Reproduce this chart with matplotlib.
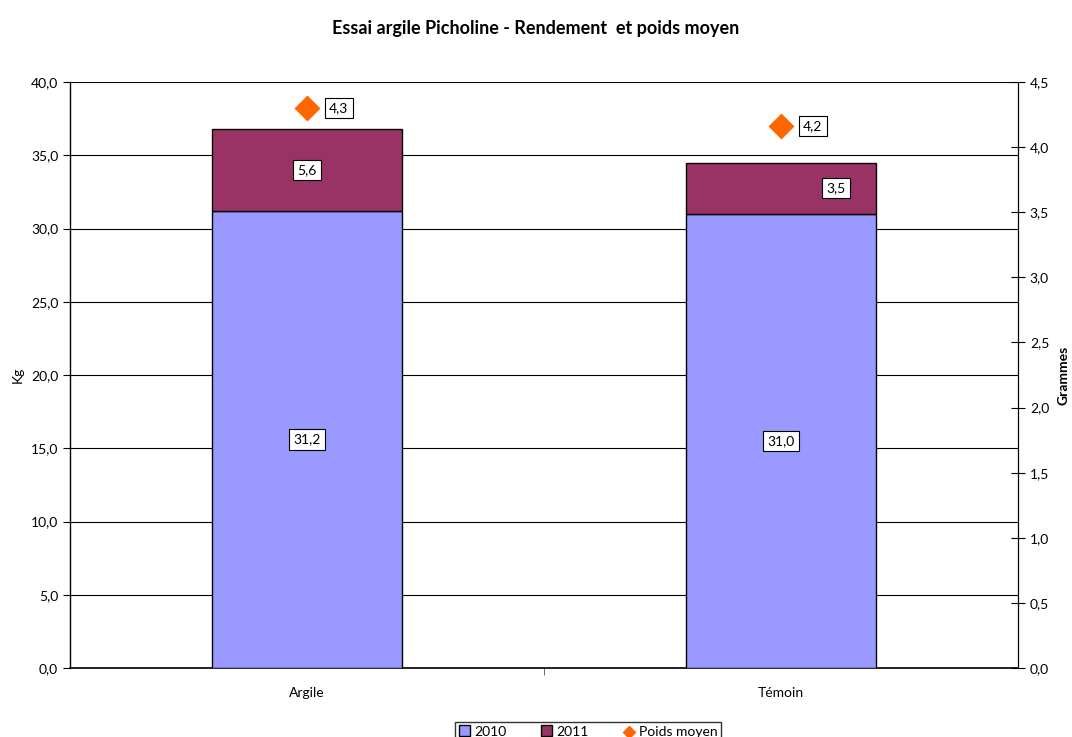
import matplotlib.pyplot as plt
import numpy as np

plt.rcParams['font.family'] = ['Lato', 'DejaVu Sans']

categories = ['Argile', 'Témoin']
rend_2010 = [31.2, 31.0]
rend_2011 = [5.6, 3.5]
poids_moyen = [4.3, 4.16]

col_2010 = '#9999FF'
col_2011 = '#993366'
col_poids = '#FF6600'


def fmt(v):
    return f'{v:.1f}'.replace('.', ',')


fig = plt.figure(figsize=(10.72, 7.37), dpi=100)
ax = fig.add_axes([70 / 1072, 1 - 668 / 737, 948 / 1072, 586 / 737])
x = np.arange(len(categories))
width = 0.4

ax.bar(x, rend_2010, width, color=col_2010, edgecolor='black', linewidth=1, zorder=3, label='2010')
ax.bar(x, rend_2011, width, bottom=rend_2010, color=col_2011, edgecolor='black', linewidth=1,
       zorder=3, label='2011')

box = dict(boxstyle='square,pad=0.3', fc='white', ec='black', lw=0.8)
for i in range(len(categories)):
    ax.text(x[i], rend_2010[i] / 2, fmt(rend_2010[i]), ha='center', va='center', fontsize=10,
            bbox=box, zorder=5)
# Excel label placement for 2011 segments
ax.text(x[0], rend_2010[0] + rend_2011[0] / 2, fmt(rend_2011[0]), ha='center', va='center',
        fontsize=10, bbox=box, zorder=5)
ax.text(x[1] + 0.116, rend_2010[1] + rend_2011[1] / 2, fmt(rend_2011[1]), ha='center', va='center',
        fontsize=10, bbox=box, zorder=5)

ax.set_xlim(-0.5, 1.5)
ax.set_ylim(0, 40)
ax.set_yticks(np.arange(0, 40.1, 5))
ax.set_yticklabels([fmt(v) for v in np.arange(0, 40.1, 5)], fontsize=10)
ax.yaxis.grid(True, color='black', linewidth=0.8, zorder=0)
ax.set_axisbelow(True)
ax.set_xticks(x)
ax.set_xticklabels(categories, fontsize=10)
ax.tick_params(axis='x', length=0, pad=14)
ax.set_xticks([0.5], minor=True)
ax.tick_params(axis='x', which='minor', length=5, direction='out', color='#555555')
ax.tick_params(axis='y', length=5, direction='out')
ax.spines['top'].set_visible(False)
ax.spines['left'].set_linewidth(1)
ax.spines['bottom'].set_linewidth(1.2)
fig.text(18 / 1072, 1 - 375 / 737, 'Kg', rotation=90, ha='center', va='center', fontsize=10)

ax2 = ax.twinx()
ax2.set_ylim(0, 4.5)
ticks2 = np.arange(0, 4.51, 0.5)
ax2.set_yticks(ticks2)
ax2.set_yticklabels([fmt(v) for v in ticks2], fontsize=10)
ax2.tick_params(axis='y', length=10, direction='inout')
ax2.spines['top'].set_visible(False)
ax2.spines['left'].set_visible(False)
ax2.spines['bottom'].set_visible(False)
ax2.scatter(x, poids_moyen, marker='D', s=150, color=col_poids, zorder=6, label='Poids moyen')
for i in range(len(categories)):
    ax2.annotate(fmt(poids_moyen[i]), (x[i], poids_moyen[i]), xytext=(16, 0), textcoords='offset points',
                 ha='left', va='center', fontsize=10, bbox=box, zorder=7)
fig.text(1064 / 1072, 1 - 375 / 737, 'Grammes', rotation=90, ha='center', va='center',
         fontsize=10, fontweight='bold')

fig.suptitle('Essai argile Picholine - Rendement  et poids moyen', fontsize=13, fontweight='bold',
             y=1 - 20 / 737)

h1, l1 = ax.get_legend_handles_labels()
h2, l2 = ax2.get_legend_handles_labels()
leg = fig.legend(h1 + h2, l1 + l2, loc='upper center', bbox_to_anchor=(588 / 1072, 1 - 715 / 737),
                 ncol=3, fontsize=10, frameon=True, fancybox=False, edgecolor='black',
                 handlelength=0.8, handleheight=0.8, columnspacing=2.5, handletextpad=0.3,
                 borderpad=0.25, markerscale=0.5)
leg.get_frame().set_linewidth(1)

fig.savefig('out.png', dpi=100)
